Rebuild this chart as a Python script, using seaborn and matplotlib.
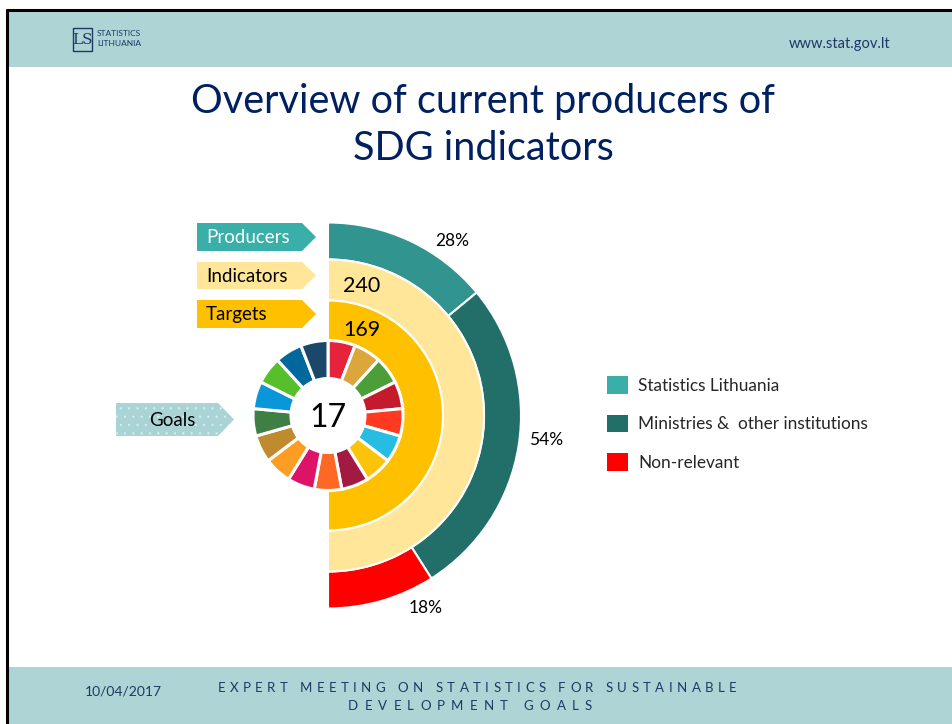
import numpy as np
import matplotlib
matplotlib.use("Agg")
import matplotlib.pyplot as plt
import seaborn as sns
from matplotlib.patches import Polygon, Rectangle, Patch
from matplotlib.font_manager import FontProperties

# data
producer_labels = ["Statistics Lithuania", "Ministries &  other institutions", "Non-relevant"]
producer_share = [28, 54, 18]
n_indicators = 240
n_targets = 169
n_goals = 17
goal_colors = ["#E5243B", "#DDA63A", "#4C9F38", "#C5192D", "#FF3A21", "#26BDE2",
               "#FCC30B", "#A21942", "#FD6925", "#DD1367", "#FD9D24", "#BF8B2E",
               "#3F7E44", "#0A97D9", "#56C02B", "#00689D", "#19486A"]

producer_colors = ["#31948F", "#226F6A", "#FF0000"]
legend_colors = ["#3AAEA9", "#226F6A", "#FF0000"]
ind_color = "#FFE699"
tgt_color = "#FFC000"
band = "#AFD4D6"
navy = "#002060"
dark = "#1F3864"

sns.set_theme(style="white")
plt.rcParams["font.family"] = ["Lato", "DejaVu Sans"]
plt.rcParams["hatch.linewidth"] = 0.4

W, H = 953, 724
fig = plt.figure(figsize=(W / 100, H / 100), dpi=100)

# donut axes, 1 unit = 1 pixel (drawn under the slide layer)
cx, cy, half = 328, 415.5, 200
ax = fig.add_axes([(cx - half) / W, (H - cy - half) / H, 2 * half / W, 2 * half / H])
edge = dict(edgecolor="white", linewidth=1.5)

w_prod, _ = ax.pie(producer_share + [sum(producer_share)], colors=producer_colors + ["white"],
                   startangle=90, counterclock=False, radius=193,
                   wedgeprops=dict(width=37, **edge))
w_prod[-1].set_visible(False)
w_ind, _ = ax.pie([n_indicators, n_indicators], colors=[ind_color, "white"],
                  startangle=90, counterclock=False, radius=156,
                  wedgeprops=dict(width=41, **edge))
w_ind[-1].set_visible(False)
w_tgt, _ = ax.pie([n_targets, n_targets], colors=[tgt_color, "white"],
                  startangle=90, counterclock=False, radius=115,
                  wedgeprops=dict(width=40, **edge))
w_tgt[-1].set_visible(False)
ax.pie(np.ones(n_goals), colors=goal_colors, startangle=90, counterclock=False,
       radius=75, wedgeprops=dict(width=38, edgecolor="white", linewidth=2.2))
ax.set_xlim(-half, half)
ax.set_ylim(-half, half)
ax.axis("off")

# slide layer in pixel coordinates
bg = fig.add_axes([0, 0, 1, 1])
bg.set_xlim(0, W)
bg.set_ylim(H, 0)
bg.axis("off")
bg.set_zorder(2)

# slide frame
bg.add_patch(Rectangle((8, 11), W - 8, 56, color=band, lw=0))
bg.add_patch(Rectangle((8, 667), W - 8, H - 667, color=band, lw=0))
bg.plot([6, W], [10, 10], color="black", lw=2.2, solid_capstyle="butt")
bg.plot([7, 7], [9, H], color="black", lw=2.2, solid_capstyle="butt")

# logo + url
bg.add_patch(Rectangle((73, 28), 19, 23, fill=False, ec=dark, lw=1))
bg.text(82.5, 40, "LS", ha="center", va="center", fontsize=11, color=dark,
        family="DejaVu Serif")
bg.text(97, 34, "STATISTICS", ha="left", va="center", fontsize=6, color=dark)
bg.text(97, 43, "LITHUANIA", ha="left", va="center", fontsize=6, color=dark)
bg.text(840, 44, "www.stat.gov.lt", ha="center", va="center", fontsize=10.5, color=dark)

# title
bg.text(483, 102, "Overview of current producers of", ha="center", va="center",
        fontsize=28.5, color=navy)
bg.text(483, 148, "SDG indicators", ha="center", va="center", fontsize=28.5, color=navy)

# footer
renderer = fig.canvas.get_renderer()


def tracked(s, xc, y, size, span):
    prop = FontProperties(family="Lato", size=size)
    ws = []
    for c in s:
        if c == " ":
            ws.append(size * 100 / 72 * 0.28)
        else:
            ws.append(renderer.get_text_width_height_descent(c, prop, ismath=False)[0])
    track = (span - sum(ws)) / (len(s) - 1)
    x = xc - span / 2
    for c, w in zip(s, ws):
        bg.text(x, y, c, ha="left", va="center", fontsize=size, color=dark, family="Lato")
        x += w + track


tracked("EXPERT MEETING ON STATISTICS FOR SUSTAINABLE", 477, 688, 9.5, 519)
tracked("DEVELOPMENT GOALS", 470, 706, 9.5, 244)
bg.text(123, 692, "10/04/2017", ha="center", va="center", fontsize=10, color=dark)

# ring values
bg.text(362, 285.5, str(n_indicators), ha="center", va="center", fontsize=15.5, color="black")
bg.text(362, 329.5, str(n_targets), ha="center", va="center", fontsize=15.5, color="black")
bg.text(328, 418, str(n_goals), ha="center", va="center", fontsize=23, color="black")
for (px, py), v in zip([(452, 241), (546, 440), (426, 608)], producer_share):
    bg.text(px, py, f"{v}%", ha="center", va="center", fontsize=12.5, color="black")


# arrow tags
def tag(x0, x1, tip, y0, y1, color, text, tcolor, tx, ha="left", hatch=None):
    ym = (y0 + y1) / 2
    pts = [(x0, y0), (x1, y0), (tip, ym), (x1, y1), (x0, y1)]
    if hatch:
        bg.add_patch(Polygon(pts, closed=True, facecolor=color, edgecolor="#DCEEEE",
                             hatch=hatch, lw=0))
    else:
        bg.add_patch(Polygon(pts, closed=True, color=color, lw=0))
    bg.text(tx, ym + 0.5, text, ha=ha, va="center", fontsize=13.5, color=tcolor)


tag(197, 302, 316, 223, 251, "#3AAEA8", "Producers", "white", 206)
tag(197, 302, 316, 262, 289, ind_color, "Indicators", "black", 206)
tag(197, 302, 316, 300, 328, tgt_color, "Targets", "black", 206)
tag(116, 218, 234, 403, 436, "#A9D3D5", "Goals", "black", 172, ha="center", hatch="..")

# legend
handles = [Patch(facecolor=c, edgecolor="none", label=l)
           for c, l in zip(legend_colors, producer_labels)]
fs = 12.4
px_fs = fs * 100 / 72
leg = bg.legend(handles=handles, loc="upper left", bbox_to_anchor=(607, 376),
                bbox_transform=bg.transData, frameon=False, fontsize=fs,
                handlelength=21 / px_fs, handleheight=21 / px_fs,
                handletextpad=0.6, labelspacing=1.2, borderpad=0, borderaxespad=0)

fig.savefig("out.png", dpi=100)
plt.close()
